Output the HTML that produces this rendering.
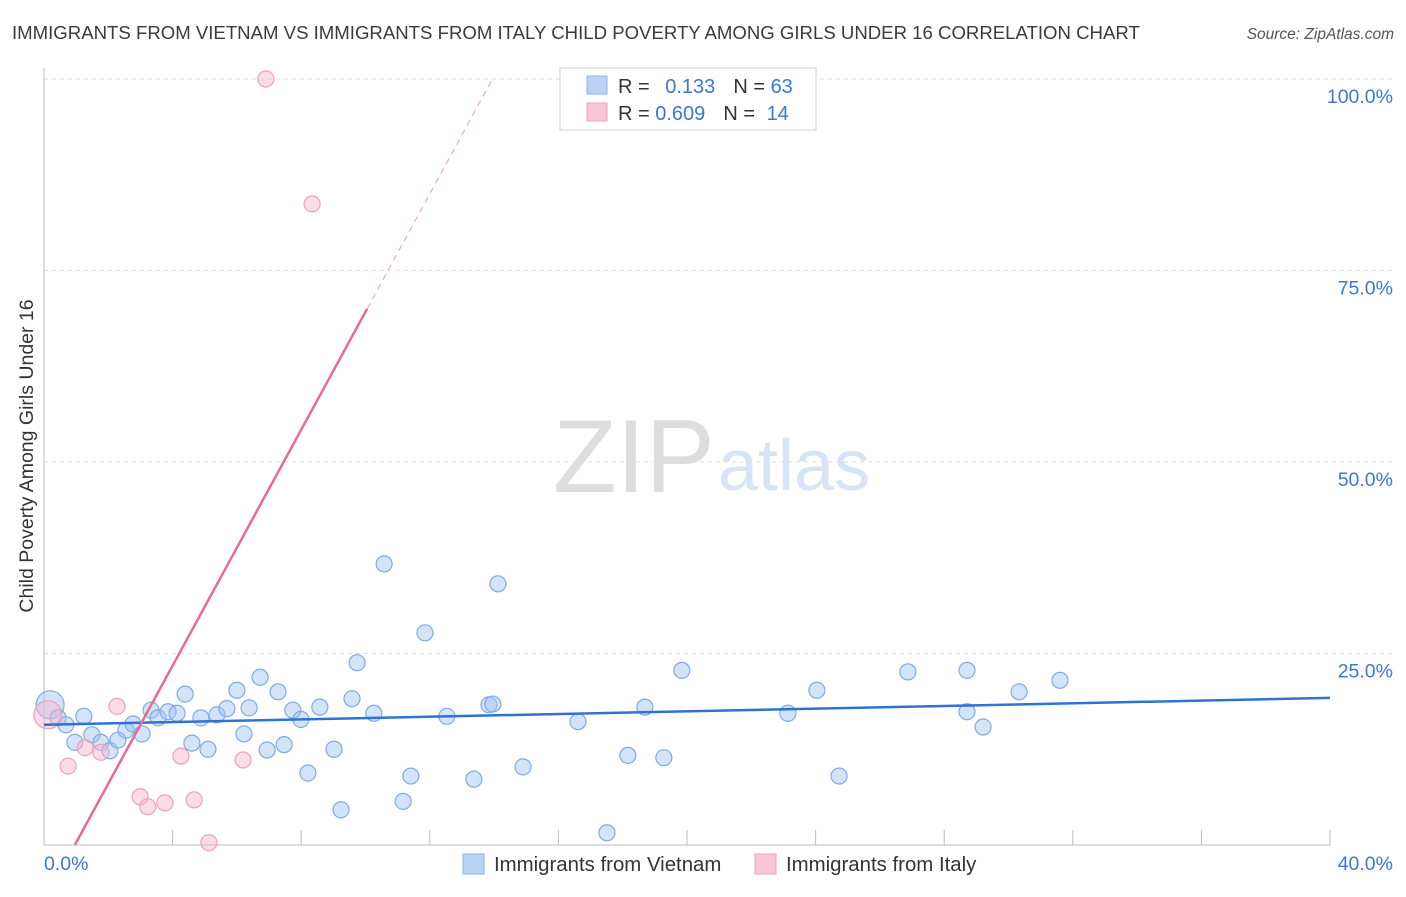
<!DOCTYPE html>
<html><head><meta charset="utf-8"><style>
body{margin:0;background:#fff;font-family:"Liberation Sans",sans-serif;}
svg text{font-family:"Liberation Sans",sans-serif;}
</style></head><body>
<svg id="chart" width="1406" height="892" xmlns="http://www.w3.org/2000/svg">
<text x="12" y="39" font-size="18.6" fill="#3a3a3a">IMMIGRANTS FROM VIETNAM VS IMMIGRANTS FROM ITALY CHILD POVERTY AMONG GIRLS UNDER 16 CORRELATION CHART</text>
<text x="1394" y="39" font-size="15.5" fill="#555" font-style="italic" text-anchor="end">Source: ZipAtlas.com</text>
<g><text x="553" y="492" font-size="104" fill="#ddd" font-family="Liberation Serif, serif">ZIP</text><text x="718" y="490" font-size="72" fill="#d6e4f5">atlas</text></g>
<g id="grid"></g><g id="axes"></g><g id="marks"></g>
<text transform="translate(33,456) rotate(-90)" font-size="19.5" fill="#333" text-anchor="middle">Child Poverty Among Girls Under 16</text>
<g>
<rect x="560" y="68" width="256" height="62" fill="#fff" stroke="#ccc"/>
<rect x="587" y="76" width="20" height="18" fill="#b9d3f5" stroke="#8ab4e8"/>
<rect x="587" y="103" width="20" height="18" fill="#f9c6d6" stroke="#f0a0b8"/>
<text x="618" y="93" font-size="20" fill="#333">R = <tspan fill="#3a78d6" dx="10">0.133</tspan><tspan fill="#333" dx="18">N = </tspan><tspan fill="#3a78d6">63</tspan></text>
<text x="618" y="120" font-size="20" fill="#333">R = <tspan fill="#3a78d6">0.609</tspan><tspan fill="#333" dx="18">N = </tspan><tspan fill="#3a78d6" dx="6">14</tspan></text>
</g>
<g>
<rect x="463" y="854" width="21" height="20" fill="#b9d3f5" stroke="#8ab4e8"/>
<text x="494" y="871" font-size="20.4" fill="#333">Immigrants from Vietnam</text>
<rect x="755" y="854" width="21" height="20" fill="#f9c6d6" stroke="#f0a0b8"/>
<text x="786" y="871" font-size="20.4" fill="#333">Immigrants from Italy</text>
</g>
</svg>
<script>
const xTicks=[0,40];
const yTicks=[25,50,75,100];
const blueX=[0.19,0.44,0.68,1.24,0.96,1.49,1.77,2.05,2.30,2.55,2.77,3.05,3.33,3.55,3.86,4.14,4.39,4.60,4.88,5.10,5.38,5.69,6.00,6.22,6.38,6.72,6.94,7.28,7.47,7.74,7.99,8.21,8.58,9.02,9.24,9.58,9.74,10.26,10.58,11.17,11.41,11.85,12.53,13.37,13.84,13.96,14.12,14.90,16.61,17.51,18.16,18.69,19.28,19.84,23.14,24.04,24.73,26.87,28.71,28.71,29.21,30.33,31.60];
const blueY=[18.3,16.6,15.7,16.8,13.4,14.4,13.4,12.3,13.7,15.0,15.8,14.5,17.6,16.6,17.4,17.2,19.7,13.3,16.6,12.5,17.0,17.8,20.2,14.5,17.9,21.9,12.4,20.0,13.1,17.6,16.4,9.4,18.0,12.5,4.6,19.1,23.8,17.2,36.7,5.7,9.0,27.7,16.8,8.6,18.3,18.4,34.1,10.2,16.1,1.6,11.7,18.0,11.4,22.8,17.2,20.2,9.0,22.6,22.8,17.4,15.4,20.0,21.5];
const pinkX=[0.12,0.75,1.28,1.77,2.27,2.99,3.23,3.76,4.26,4.67,5.13,6.19,6.90,8.34];
const pinkY=[17.0,10.3,12.7,12.1,18.1,6.3,5.0,5.5,11.6,5.9,0.3,11.1,100,83.7];
const blueTrend=[15.7,19.2];
const pinkTrend=[0.96,7.7];
const X=v=>44+v*32.15, Y=v=>845-v*7.66;
const NS="http://www.w3.org/2000/svg";
function mk(parent,tag,attrs){const e=document.createElementNS(NS,tag);for(const k in attrs)e.setAttribute(k,attrs[k]);document.getElementById(parent).appendChild(e);return e;}
yTicks.forEach(t=>{
 const l=mk('grid','line',{x1:44,x2:1394,y1:Y(t),y2:Y(t),stroke:'#ddd','stroke-dasharray':'4,4'});
 
 
 const tx=mk('grid','text',{x:1393,y:Y(t)+24,'font-size':19.5,fill:'#3a78d6','text-anchor':'end'});tx.textContent=t.toFixed(1)+'%';
 
 
});
mk('axes','line',{x1:44,x2:44,y1:68,y2:845,stroke:'#bbb'});
mk('axes','line',{x1:44,x2:1330,y1:845,y2:845,stroke:'#bbb'});
for(let i=0;i<=10;i++){const t=mk('axes','line',{x1:X(i*4),x2:X(i*4),y1:830,y2:845,stroke:'#bbb'});
 
 }
xTicks.forEach((t,i)=>{const tx=mk('axes','text',{x:i?1393:44,y:870,'font-size':19.5,fill:'#3a78d6','text-anchor':i?'end':'start'});tx.textContent=t.toFixed(1)+'%';
 
 });
blueX.forEach((x,i)=>{const c=mk('marks','circle',{cx:X(x),cy:Y(blueY[i]),r:i==0?14:8,fill:'rgba(160,196,240,0.45)',stroke:'#7eabe6','stroke-width':1.2});
 
 });
pinkX.forEach((x,i)=>{const c=mk('marks','circle',{cx:X(x),cy:Y(pinkY[i]),r:i==0?14:8,fill:'rgba(248,180,202,0.45)',stroke:'#f0a0b8','stroke-width':1.2});
 
 });
const bl=mk('marks','line',{x1:X(0),y1:Y(blueTrend[0]),x2:X(40),y2:Y(blueTrend[1]),stroke:'#2f72d4','stroke-width':2.5});


const py=x=>pinkTrend[1]*(x-pinkTrend[0]);
const xs=pinkTrend[0]+70/pinkTrend[1], xe=pinkTrend[0]+100/pinkTrend[1];
const pl=mk('marks','line',{x1:X(pinkTrend[0]),y1:Y(0),x2:X(xs),y2:Y(py(xs)),stroke:'#e8699a','stroke-width':2.5});


const pd=mk('marks','line',{x1:X(xs),y1:Y(py(xs)),x2:X(xe),y2:Y(py(xe)),stroke:'#eeaac4','stroke-width':1.2,'stroke-dasharray':'6,5'});


</script>
</body></html>
